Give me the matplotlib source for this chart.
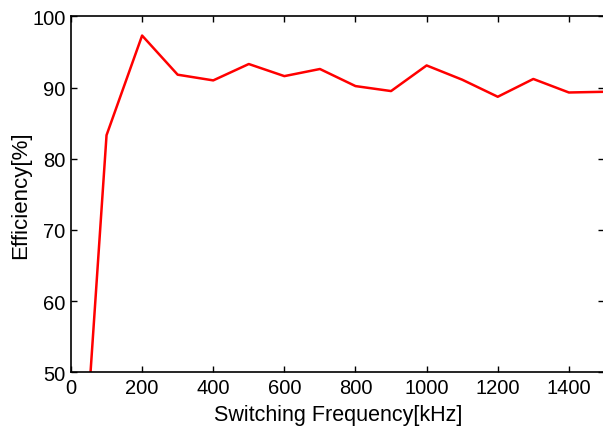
import matplotlib
matplotlib.use("Agg")
import matplotlib.pyplot as plt

# switching frequency (kHz) vs efficiency (%)
freq = [50, 100, 200, 300, 400, 500, 600, 700, 800, 900, 1000, 1100, 1200, 1300, 1400, 1500]
eff = [46.3, 83.3, 97.3, 91.8, 91.0, 93.3, 91.6, 92.6, 90.2, 89.5, 93.1, 91.1, 88.7, 91.2, 89.3, 89.4]

x_ticks = [0, 200, 400, 600, 800, 1000, 1200, 1400]
y_ticks = [50, 60, 70, 80, 90, 100]

plt.rcParams['font.family'] = ['Liberation Sans', 'DejaVu Sans']

fig = plt.figure(figsize=(6.03, 4.31), dpi=100)
ax = fig.add_axes([0.1177, 0.1340, 0.8847, 0.8258])

ax.plot(freq, eff, color='red', linewidth=1.8)

ax.set_xlim(0, 1500)
ax.set_ylim(50, 100)
ax.set_xticks(x_ticks)
ax.set_yticks(y_ticks)
ax.tick_params(direction='in', length=4, width=1, labelsize=14.5,
               top=True, right=True, pad=4)
ax.spines['right'].set_visible(False)
for s in ['left', 'bottom', 'top']:
    ax.spines[s].set_linewidth(1.2)

ax.set_xlabel('Switching Frequency[kHz]', fontsize=15.5, labelpad=5)
ax.set_ylabel('Efficiency[%]', fontsize=16, labelpad=1)

plt.savefig('out.png', dpi=100)
